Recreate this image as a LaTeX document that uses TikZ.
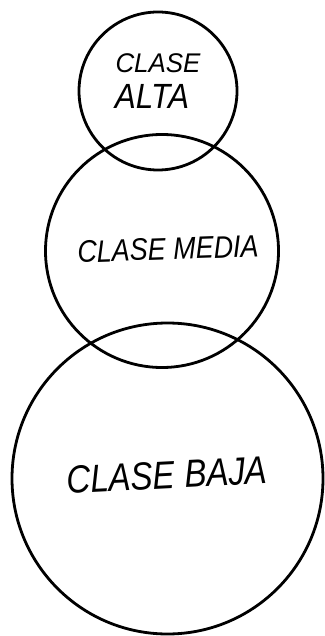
\documentclass[tikz,border=0pt]{standalone}
\usepackage{fontspec}
\newfontfamily\mano{Liberation Sans}
\begin{document}
\begin{tikzpicture}[x=1pt,y=-1pt,
    circ/.style={circle,draw,line width=2.8pt,inner sep=0pt,outer sep=0pt},
    lbl/.style={inner sep=0pt,font=\mano\itshape}]
    \useasboundingbox (0,0) rectangle (324,636);
    \node[circ,minimum size=158pt] (alta) at (158,91) {};
    \node[circ,minimum size=233pt] (media) at (162,251) {};
    \node[circ,minimum size=311pt] (baja) at (167.5,478.5) {};
    \node[lbl,font=\mano\itshape\fontsize{27}{30}\selectfont] (altaA) at (158,63) {\scalebox{0.96}[1]{CLASE}};
    \node[lbl,font=\mano\itshape\fontsize{35}{38}\selectfont] (altaB) at (152,96) {\scalebox{0.9}[1]{ALTA}};
    \node[lbl,rotate=2,font=\mano\itshape\fontsize{31}{34}\selectfont] (mediaT) at (168,249) {\scalebox{0.87}[1]{CLASE MEDIA}};
    \node[lbl,rotate=3,font=\mano\itshape\fontsize{39}{42}\selectfont] (bajaT) at (167,475) {\scalebox{0.85}[1]{CLASE BAJA}};
\end{tikzpicture}
\end{document}
